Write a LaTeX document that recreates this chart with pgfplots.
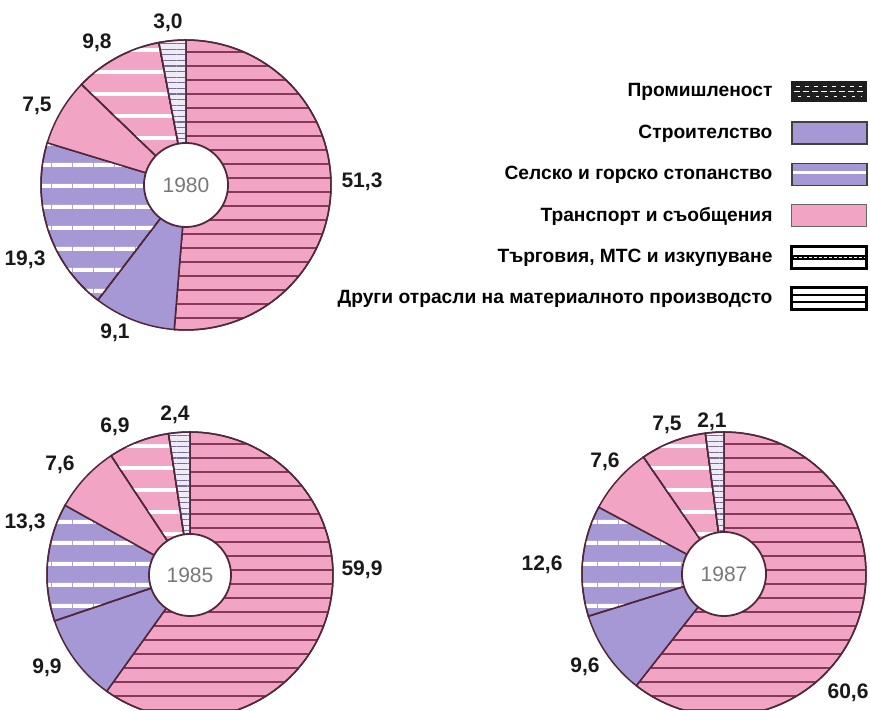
\documentclass[border=0pt]{standalone}
\usepackage{fontspec}
\setmainfont{Liberation Sans}
\usepackage{pgfplots}
\pgfplotsset{compat=1.18}
\usetikzlibrary{patterns.meta}
\definecolor{pinkc}{RGB}{242,164,197}
\definecolor{purc}{RGB}{166,152,212}
\definecolor{edgec}{RGB}{80,40,60}
\definecolor{plinec}{RGB}{135,55,90}
\definecolor{olinec}{RGB}{120,110,150}
\definecolor{obgc}{RGB}{238,234,246}
\definecolor{yearc}{RGB}{120,120,120}
\tikzset{
 ind/.style={preaction={fill=pinkc}, pattern={Lines[angle=0,distance=7pt,line width=1pt]}, pattern color=plinec, draw=edgec, line width=0.75pt},
 con/.style={fill=purc, draw=edgec, line width=0.75pt},
 agr/.style={preaction={fill=purc}, pattern={Lines[angle=0,distance=10.5pt,line width=2pt]}, pattern color=white, draw=edgec, line width=0.75pt},
 tra/.style={fill=pinkc, draw=edgec, line width=0.75pt},
 trd/.style={preaction={fill=pinkc}, pattern={Lines[angle=0,distance=11pt,line width=2pt]}, pattern color=white, draw=edgec, line width=0.75pt},
 oth/.style={preaction={fill=obgc}, pattern={Lines[angle=0,distance=2.8pt,line width=0.55pt]}, pattern color=olinec, draw=edgec, line width=0.75pt},
 lab/.style={font=\bfseries\fontsize{10.5}{12}\selectfont, text=black!90},
}
% #1 cx, #2 cy, #3 R, #4 r, #5 year, #6 list value/style (clockwise from top)
\newcommand\donut[6]{%
  \gdef\cum{0}%
  \foreach \v/\s in {#6} {%
    \pgfmathsetmacro\a{90-3.6*\cum}%
    \pgfmathsetmacro\b{90-3.6*(\cum+\v)}%
    \pgfmathsetmacro\c{\cum+\v}\global\let\cum\c
    \edef\temp{\noexpand\addplot[\s, domain=\b:\a, samples=90, variable=\noexpand\t, forget plot] ({#1+#3*cos(\noexpand\t)},{#2+#3*sin(\noexpand\t)}) -- (axis cs:#1,#2) -- cycle;}%
    \temp
  }%
  \addplot[fill=white, draw=edgec, line width=0.9pt, domain=0:360, samples=100, forget plot] ({#1+#4*cos(x)},{#2+#4*sin(x)});
  \node[text=yearc, font=\fontsize{10.5}{12}\selectfont] at (axis cs:#1,#2) {#5};
}
\begin{document}
\begin{tikzpicture}
\begin{axis}[
  scale only axis, width=435pt, height=355pt,
  xmin=0, xmax=870, ymin=0, ymax=710,
  hide axis,
  legend plot pos=right,
  legend cell align=right,
  legend style={at={(axis cs:868,639)}, anchor=north east, draw=none, fill=none,
    inner sep=0pt, outer sep=0pt,
    font=\bfseries\fontsize{9.6}{11}\selectfont,
    nodes={minimum height=20.7pt, inner sep=0pt},
    row sep=0pt,
    /tikz/every odd column/.append style={column sep=9pt}},
]
% 1980
\donut{186}{525}{145}{42}{1980}{51.3/ind, 9.1/con, 19.3/agr, 7.5/tra, 9.8/trd, 3.0/oth}
% 1985
\donut{190}{135}{143}{41}{1985}{59.9/ind, 9.9/con, 13.3/agr, 7.6/tra, 6.9/trd, 2.4/oth}
% 1987
\donut{724}{136}{142}{42}{1987}{60.6/ind, 9.6/con, 12.6/agr, 7.6/tra, 7.5/trd, 2.1/oth}

% value labels 1980
\node[lab] at (axis cs:168,687) {3,0};
\node[lab] at (axis cs:97,667) {9,8};
\node[lab] at (axis cs:37,604) {7,5};
\node[lab] at (axis cs:362,528) {51,3};
\node[lab] at (axis cs:25,450) {19,3};
\node[lab] at (axis cs:115,377) {9,1};
% 1985
\node[lab] at (axis cs:175,295) {2,4};
\node[lab] at (axis cs:115,283) {6,9};
\node[lab] at (axis cs:60,245) {7,6};
\node[lab] at (axis cs:25,187) {13,3};
\node[lab] at (axis cs:362,140) {59,9};
\node[lab] at (axis cs:47,42) {9,9};
% 1987
\node[lab] at (axis cs:712,288) {2,1};
\node[lab] at (axis cs:667,285) {7,5};
\node[lab] at (axis cs:605,248) {7,6};
\node[lab] at (axis cs:542,145) {12,6};
\node[lab] at (axis cs:585,43) {9,6};
\node[lab] at (axis cs:848,17) {60,6};

% legend
\addlegendimage{legend image code/.code={%
  \fill[black!88] (0pt,-5pt) rectangle (37.5pt,5pt);
  \draw[white, line width=0.4pt, dash pattern=on 2pt off 2.5pt] (2pt,2.5pt) -- (35pt,2.5pt);
  \draw[white, line width=0.4pt, dash pattern=on 3pt off 1.5pt] (1pt,0pt) -- (36pt,0pt);
  \draw[white, line width=0.4pt, dash pattern=on 1.5pt off 3pt] (3pt,-2.5pt) -- (35pt,-2.5pt);}}
\addlegendentry{Промишленост}
\addlegendimage{legend image code/.code={%
  \draw[fill=purc, draw=black!75, line width=0.8pt] (0pt,-5.5pt) rectangle (37.5pt,5.5pt);}}
\addlegendentry{Строителство}
\addlegendimage{legend image code/.code={%
  \draw[fill=purc, draw=black!75, line width=0.8pt] (0pt,-5.5pt) rectangle (37.5pt,5.5pt);
  \draw[white, line width=1.6pt] (0.6pt,1pt) -- (36.9pt,1pt);}}
\addlegendentry{Селско и горско стопанство}
\addlegendimage{legend image code/.code={%
  \draw[fill=pinkc, draw=black!60, line width=0.6pt] (0pt,-5.5pt) rectangle (37.5pt,5.5pt);}}
\addlegendentry{Транспорт и съобщения}
\addlegendimage{legend image code/.code={%
  \draw[fill=white, draw=black, line width=1.3pt] (0pt,-5.5pt) rectangle (37.5pt,5.5pt);
  \draw[black, line width=2.4pt] (0.6pt,0pt) -- (36.9pt,0pt);
  \draw[white, line width=0.5pt, dash pattern=on 1.5pt off 1pt] (1pt,0pt) -- (36.5pt,0pt);}}
\addlegendentry{Търговия, МТС и изкупуване}
\addlegendimage{legend image code/.code={%
  \draw[fill=white, draw=black, line width=1.3pt] (0pt,-5.5pt) rectangle (37.5pt,5.5pt);
  \draw[black, line width=0.9pt] (0.6pt,1.8pt) -- (36.9pt,1.8pt);
  \draw[black, line width=0.9pt] (0.6pt,-1.8pt) -- (36.9pt,-1.8pt);}}
\addlegendentry{Други отрасли на материалното производсто}
\end{axis}
\pgfresetboundingbox
\path (current axis.south west) rectangle (current axis.north east);
\end{tikzpicture}
\end{document}
